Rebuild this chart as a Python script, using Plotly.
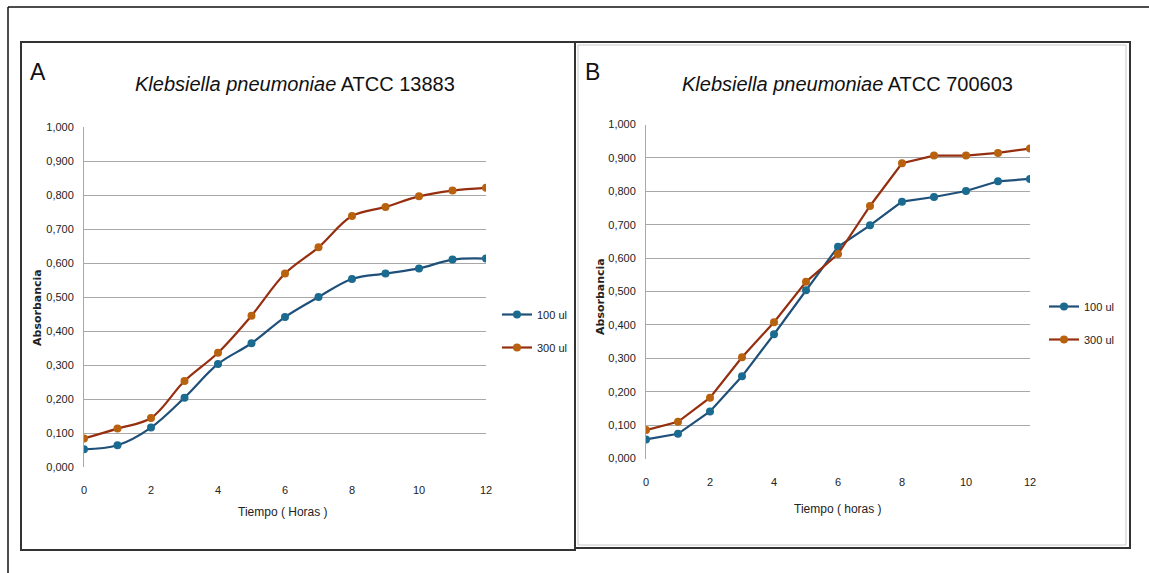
import plotly.graph_objects as go

W, H = 1149, 573

hours = [0, 1, 2, 3, 4, 5, 6, 7, 8, 9, 10, 11, 12]

a_100 = [0.052, 0.064, 0.116, 0.204, 0.303, 0.364, 0.441, 0.500, 0.553, 0.569, 0.584, 0.610, 0.613]
a_300 = [0.084, 0.113, 0.144, 0.253, 0.336, 0.445, 0.569, 0.646, 0.738, 0.765, 0.796, 0.813, 0.821]

b_100 = [0.057, 0.074, 0.141, 0.246, 0.372, 0.504, 0.634, 0.698, 0.769, 0.783, 0.801, 0.830, 0.837]
b_300 = [0.085, 0.110, 0.182, 0.303, 0.408, 0.529, 0.612, 0.756, 0.884, 0.907, 0.907, 0.915, 0.928]

series_names = ["100 ul", "300 ul"]
y_ticks = [0.0, 0.1, 0.2, 0.3, 0.4, 0.5, 0.6, 0.7, 0.8, 0.9, 1.0]
y_ticktext = ["0,000", "0,100", "0,200", "0,300", "0,400", "0,500",
              "0,600", "0,700", "0,800", "0,900", "1,000"]
x_ticks = [0, 2, 4, 6, 8, 10, 12]

titles = ["Klebsiella pneumoniae", "ATCC 13883", "ATCC 700603"]
panel_letters = ["A", "B"]
x_titles = ["Tiempo ( Horas )", "Tiempo ( horas )"]
y_title = "Absorbancia"

BLUE_L, BLUE_M = "#1F5079", "#1B6A90"
RED_L, RED_M = "#952F10", "#B8620F"
NARROW = "Liberation Sans Narrow, Arial Narrow, Liberation Sans, Arial, sans-serif"
GRID = "#A8A8A8"


def px(x):
    return x / W


def py(y):
    return 1 - y / H


fig = go.Figure()

fig.add_trace(go.Scatter(x=hours, y=a_100, name=series_names[0], mode="lines+markers",
                         line=dict(color=BLUE_L, width=2.2, shape="spline"),
                         marker=dict(color=BLUE_M, size=8), xaxis="x", yaxis="y",
                         legend="legend", legendgroup="a1"))
fig.add_trace(go.Scatter(x=hours, y=a_300, name=series_names[1], mode="lines+markers",
                         line=dict(color=RED_L, width=2.2, shape="spline"),
                         marker=dict(color=RED_M, size=8), xaxis="x", yaxis="y",
                         legend="legend", legendgroup="a3"))
fig.add_trace(go.Scatter(x=hours, y=b_100, name=series_names[0], mode="lines+markers",
                         line=dict(color=BLUE_L, width=2.2),
                         marker=dict(color=BLUE_M, size=8), xaxis="x2", yaxis="y2",
                         legend="legend2", legendgroup="b1"))
fig.add_trace(go.Scatter(x=hours, y=b_300, name=series_names[1], mode="lines+markers",
                         line=dict(color=RED_L, width=2.2),
                         marker=dict(color=RED_M, size=8), xaxis="x2", yaxis="y2",
                         legend="legend2", legendgroup="b3"))

axis_common_x = dict(range=[0, 12], tickvals=x_ticks, showgrid=False, zeroline=False,
                     showline=False, ticks="", tickfont=dict(family=NARROW, size=11, color="#222"),
                     ticklabelstandoff=15, automargin=False)
axis_common_y = dict(range=[0, 1], tickvals=y_ticks, ticktext=y_ticktext, showgrid=True,
                     gridcolor=GRID, gridwidth=1, zeroline=False, showline=True,
                     linecolor=GRID, linewidth=1, ticks="", automargin=False,
                     tickfont=dict(family=NARROW, size=11, color="#222"), ticklabelstandoff=7)

legend_common = dict(xanchor="left", yanchor="middle",
                     font=dict(family=NARROW, size=11, color="#222"), bgcolor="rgba(0,0,0,0)",
                     itemwidth=30, tracegroupgap=14)

fig.update_layout(
    width=W, height=H, margin=dict(l=0, r=0, t=0, b=0, autoexpand=False),
    paper_bgcolor="white", plot_bgcolor="white",
    xaxis=dict(domain=[px(84), px(486)], anchor="y", **axis_common_x),
    yaxis=dict(domain=[py(467), py(127)], anchor="x", **axis_common_y),
    xaxis2=dict(domain=[px(646), px(1030)], anchor="y2", **axis_common_x),
    yaxis2=dict(domain=[py(458.5), py(124.5)], anchor="x2", **axis_common_y),
    legend=dict(x=px(497), y=py(331), **legend_common),
    legend2=dict(x=px(1044), y=py(323), **legend_common),
    showlegend=True,
)

shapes = [
    dict(type="line", xref="paper", yref="paper", x0=px(8), y0=py(7), x1=1, y1=py(7),
         line=dict(color="#111", width=1.5)),
    dict(type="line", xref="paper", yref="paper", x0=px(8), y0=py(7), x1=px(8), y1=0,
         line=dict(color="#111", width=1.5)),
    dict(type="rect", xref="paper", yref="paper", x0=px(21), y0=py(550), x1=px(575), y1=py(42),
         line=dict(color="#333", width=2)),
    dict(type="rect", xref="paper", yref="paper", x0=px(575), y0=py(548), x1=px(1130), y1=py(42),
         line=dict(color="#333", width=2)),
    dict(type="rect", xref="paper", yref="paper", x0=px(578), y0=py(545), x1=px(1126), y1=py(45),
         line=dict(color="#C8C8C8", width=1)),
]

annotations = []
for letter, lx in zip(panel_letters, [38, 592]):
    annotations.append(dict(text=letter, x=px(lx), y=py(72), xref="paper", yref="paper",
                            xanchor="center", yanchor="middle", showarrow=False,
                            font=dict(family=NARROW, size=23, color="#111")))
for code, cx in zip(titles[1:], [295, 848]):
    annotations.append(dict(text=f"<i>{titles[0]}</i> {code}", x=px(cx), y=py(84),
                            xref="paper", yref="paper", xanchor="center", yanchor="middle",
                            showarrow=False, font=dict(family=NARROW, size=20, color="#111")))
for xt, cx, cy in zip(x_titles, [283, 838], [512, 509]):
    annotations.append(dict(text=xt, x=px(cx), y=py(cy), xref="paper", yref="paper",
                            xanchor="center", yanchor="middle", showarrow=False,
                            font=dict(family=NARROW, size=12, color="#222")))
for cx, cy in [(37, 308), (600, 297)]:
    annotations.append(dict(text=f"<b>{y_title}</b>", x=px(cx), y=py(cy), xref="paper",
                            yref="paper", xanchor="center", yanchor="middle", showarrow=False,
                            textangle=-90,
                            font=dict(family="DejaVu Sans, Verdana, sans-serif", size=11,
                                      color="#222")))

fig.update_layout(shapes=shapes, annotations=annotations)

fig.write_html("out.html", config={"displayModeBar": False},
               post_script="document.body.style.margin='0';document.body.style.overflow='hidden';")
